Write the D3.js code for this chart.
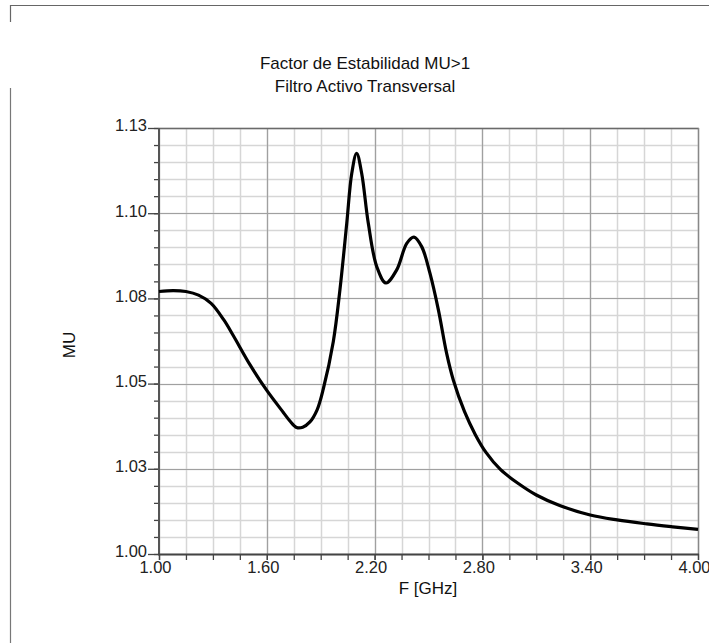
<!DOCTYPE html>
<html>
<head>
<meta charset="utf-8">
<script src="https://cdn.jsdelivr.net/npm/d3@7"></script>
<style>
  html, body { margin: 0; padding: 0; background: #fff; }
  svg { display: block; font-family: "Liberation Sans", Arial, sans-serif; }
</style>
</head>
<body>
<svg id="chart" width="709" height="643"></svg>
<script>
// ---- data ----
const freqGHz = [1.000, 1.080, 1.150, 1.220, 1.290, 1.360, 1.414, 1.507, 1.599, 1.692, 1.730, 1.766, 1.800, 1.840, 1.880, 1.915, 1.970, 2.007, 2.045, 2.073, 2.100, 2.128, 2.165, 2.212, 2.263, 2.323, 2.379, 2.419, 2.462, 2.508, 2.555, 2.601, 2.638, 2.700, 2.760, 2.820, 2.900, 3.000, 3.100, 3.230, 3.400, 3.550, 3.715, 3.860, 4.000];
const muValues = [1.0801, 1.0804, 1.0801, 1.0790, 1.0765, 1.0715, 1.0666, 1.0577, 1.0500, 1.0432, 1.0405, 1.0386, 1.0387, 1.0403, 1.0440, 1.0505, 1.0648, 1.0806, 1.1009, 1.1162, 1.1223, 1.1162, 1.1009, 1.0877, 1.0827, 1.0867, 1.0948, 1.0967, 1.0938, 1.0857, 1.0745, 1.0612, 1.0531, 1.0435, 1.0365, 1.0310, 1.0258, 1.0215, 1.0180, 1.0148, 1.0119, 1.0104, 1.0092, 1.0083, 1.0075];
const xTickValues = [1.00, 1.60, 2.20, 2.80, 3.40, 4.00];
const xTickLabels = ["1.00", "1.60", "2.20", "2.80", "3.40", "4.00"];
const yTickValues = [1.000, 1.026, 1.052, 1.078, 1.104, 1.130];
const yTickLabels = ["1.00", "1.03", "1.05", "1.08", "1.10", "1.13"];
const titleLines = ["Factor de Estabilidad MU>1", "Filtro Activo Transversal"];
const xLabel = "F [GHz]";
const yLabel = "MU";

// ---- layout ----
const svg = d3.select("#chart");
const L = 159, R = 698, T = 128, B = 554;
const x = d3.scaleLinear().domain([1.0, 4.0]).range([L, R]);
const y = d3.scaleLinear().domain([1.0, 1.13]).range([B, T]);
const FONT = "Liberation Sans, Arial, sans-serif";

// outer frame fragments
svg.append("path").attr("d", "M10.5,22 V5.5 H709").attr("fill", "none").attr("stroke", "#666").attr("stroke-width", 1.2);
svg.append("line").attr("x1", 10.5).attr("x2", 10.5).attr("y1", 88).attr("y2", 643).attr("stroke", "#777").attr("stroke-width", 1.2);

// minor ticks
const xMinor = d3.range(0, 21).map(i => 1.0 + i * 0.15);
const yMinor = d3.range(0, 26).map(i => 1.0 + i * 0.0052);

const g = svg.append("g");
// minor grid
g.selectAll(".vminor").data(xMinor).join("line")
  .attr("x1", d => Math.round(x(d)) + 0.5).attr("x2", d => Math.round(x(d)) + 0.5)
  .attr("y1", T).attr("y2", B).attr("stroke", "#d6d6d6").attr("stroke-width", 1.5);
g.selectAll(".hminor").data(yMinor).join("line")
  .attr("y1", d => Math.round(y(d)) + 0.5).attr("y2", d => Math.round(y(d)) + 0.5)
  .attr("x1", L).attr("x2", R).attr("stroke", "#d6d6d6").attr("stroke-width", 1.5);
// major grid
g.selectAll(".vmajor").data(xTickValues).join("line")
  .attr("x1", d => Math.round(x(d)) + 0.5).attr("x2", d => Math.round(x(d)) + 0.5)
  .attr("y1", T).attr("y2", B).attr("stroke", "#a0a0a0").attr("stroke-width", 1.2);
g.selectAll(".hmajor").data(yTickValues).join("line")
  .attr("y1", d => Math.round(y(d)) + 0.5).attr("y2", d => Math.round(y(d)) + 0.5)
  .attr("x1", L).attr("x2", R).attr("stroke", "#a0a0a0").attr("stroke-width", 1.2);

// plot frame top/right
svg.append("line").attr("x1", L).attr("x2", R + 1).attr("y1", T + 0.5).attr("y2", T + 0.5).attr("stroke", "#6a6a6a").attr("stroke-width", 1.3);
svg.append("line").attr("x1", R + 0.5).attr("x2", R + 0.5).attr("y1", T).attr("y2", B).attr("stroke", "#888").attr("stroke-width", 1.3);

// axes
const yAxis = svg.append("g").attr("transform", `translate(${L},0)`);
yAxis.call(d3.axisLeft(y).tickValues(yMinor).tickSize(5).tickFormat(""))
  .call(a => a.select(".domain").remove());
yAxis.selectAll("line").attr("stroke", "#444").attr("stroke-width", 1.3);
yAxis.append("g").call(d3.axisLeft(y).tickValues(yTickValues).tickSize(11).tickFormat((d, i) => yTickLabels[i]))
  .call(a => a.select(".domain").remove())
  .call(a => a.selectAll("line").attr("stroke", "#444").attr("stroke-width", 1.3))
  .call(a => a.selectAll("text").attr("font-size", 16.5).attr("fill", "#222").attr("font-family", FONT).attr("dy", "0.18em").attr("x", -12));
svg.append("line").attr("x1", L).attr("x2", L).attr("y1", T).attr("y2", B + 1).attr("stroke", "#555").attr("stroke-width", 2);

const xAxis = svg.append("g").attr("transform", `translate(0,${B})`);
xAxis.call(d3.axisBottom(x).tickValues(xMinor).tickSize(6).tickFormat(""))
  .call(a => a.select(".domain").remove());
xAxis.selectAll("line").attr("stroke", "#444").attr("stroke-width", 1.3);
xAxis.append("g").call(d3.axisBottom(x).tickValues(xTickValues).tickSize(6).tickFormat((d, i) => xTickLabels[i]))
  .call(a => a.select(".domain").remove())
  .call(a => a.selectAll("line").attr("stroke", "#444").attr("stroke-width", 1.3))
  .call(a => a.selectAll("text").attr("font-size", 16.5).attr("fill", "#222").attr("font-family", FONT).attr("y", 7).attr("dx", -4));
svg.append("line").attr("x1", L - 1).attr("x2", R + 1).attr("y1", B + 0.5).attr("y2", B + 0.5).attr("stroke", "#444").attr("stroke-width", 2);

// curve
const pts = freqGHz.map((f, i) => [f, muValues[i]]);
svg.append("path").datum(pts)
  .attr("fill", "none").attr("stroke", "#000").attr("stroke-width", 3.2).attr("stroke-linejoin", "round")
  .attr("d", d3.line().x(d => x(d[0])).y(d => y(d[1])).curve(d3.curveCatmullRom.alpha(0.5)));

// titles
svg.selectAll(".title").data(titleLines).join("text")
  .attr("x", 365).attr("y", (d, i) => 69 + i * 23)
  .attr("text-anchor", "middle").attr("font-size", 17).attr("fill", "#111")
  .text(d => d);

svg.append("text").attr("x", 428).attr("y", 594).attr("text-anchor", "middle")
  .attr("font-size", 17).attr("fill", "#111").text(xLabel);
svg.append("text").attr("transform", "translate(75,345) rotate(-90)").attr("text-anchor", "middle")
  .attr("font-size", 17).attr("fill", "#111").text(yLabel);
</script>
</body>
</html>
